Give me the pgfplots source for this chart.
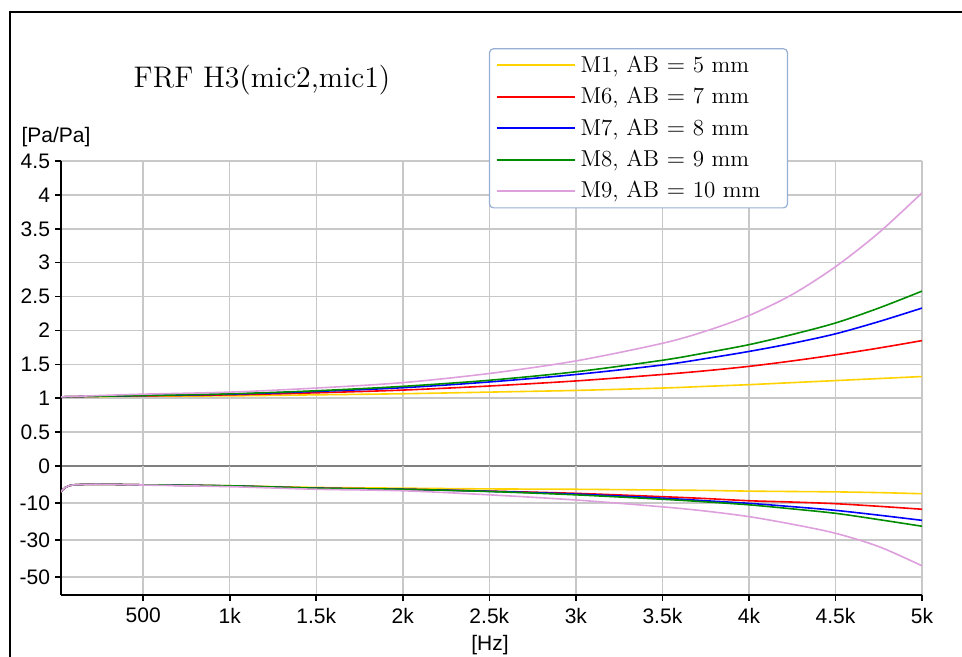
\documentclass[border=0pt]{standalone}
\usepackage{fontspec}
\setsansfont{Liberation Sans}
\usepackage{pgfplots}
\usepackage{pgfplotstable}
\pgfplotsset{compat=1.18}
\usetikzlibrary{calc}

\definecolor{cMone}{RGB}{255,210,0}
\definecolor{cMsix}{RGB}{255,0,0}
\definecolor{cMseven}{RGB}{0,0,255}
\definecolor{cMeight}{RGB}{0,140,0}
\definecolor{cMnine}{RGB}{221,160,221}
\definecolor{gridgray}{RGB}{200,200,200}
\definecolor{zerogray}{RGB}{128,128,128}
\definecolor{legframe}{RGB}{150,175,210}

% magnitude [Pa/Pa]
\pgfplotstableread{
f    m1    m6    m7    m8    m9
25   1.02  1.02  1.02  1.02  1.02
250  1.025 1.03  1.03  1.03  1.04
500  1.03  1.035 1.04  1.04  1.06
1000 1.035 1.05  1.06  1.065 1.09
1500 1.05  1.08  1.10  1.11  1.15
2000 1.066 1.12  1.155 1.175 1.23
2500 1.09  1.18  1.24  1.265 1.365
3000 1.115 1.255 1.35  1.39  1.55
3500 1.15  1.35  1.49  1.56  1.81
3750 1.175 1.405 1.585 1.67  1.99
4000 1.20  1.47  1.69  1.79  2.22
4250 1.23  1.55  1.81  1.94  2.53
4500 1.26  1.64  1.95  2.11  2.94
4750 1.29  1.74  2.13  2.33  3.44
5000 1.32  1.85  2.33  2.58  4.03
}\magtab

% lower panel, in the panel's display units
\pgfplotstableread{
f    m1    m6    m7    m8    m9
25   -7.0  -7.0  -7.0  -7.0  -7.0
50   -5.8  -5.8  -5.8  -5.8  -5.8
100  -5.1  -5.1  -5.1  -5.1  -5.1
250  -4.95 -4.95 -4.95 -4.95 -4.95
500  -5.1  -5.1  -5.1  -5.1  -5.15
1000 -5.35 -5.4  -5.4  -5.35 -5.6
1500 -5.8  -6.0  -6.0  -6.0  -6.3
2000 -6.0  -6.3  -6.3  -6.3  -6.7
2500 -6.2  -6.8  -6.85 -6.9  -7.8
3000 -6.3  -7.4  -7.6  -7.8  -9.2
3500 -6.5  -8.3  -8.7  -9.0  -11.05
3750 -6.6  -8.8  -9.4  -9.7  -12.2
4000 -6.8  -9.4  -10.1 -10.5 -13.7
4250 -6.9  -9.75 -11.0 -11.6 -15.75
4500 -7.0  -10.2 -12.0 -12.8 -18.2
4750 -7.2  -10.9 -13.3 -14.5 -21.8
5000 -7.5  -11.7 -14.7 -16.3 -27.0
}\phtab

\pgfplotsset{
  frfbase/.style={
    scale only axis, width=430.5pt,
    xmin=25, xmax=5000,
    xtick={500,1000,...,5000},
    axis lines=left,
    every non boxed x axis/.style={}, every non boxed y axis/.style={},
    axis line style={black, line width=0.9pt, -},
    grid=major, major grid style={gridgray, line width=0.75pt},
    tick style={black, line width=0.8pt},
    tick align=outside, major tick length=3pt,
    ticklabel style={font=\sffamily\fontsize{10.5}{12}\selectfont},
    yticklabel style={xshift=1pt},
    /pgf/number format/assume math mode=true,
  },
  every axis plot/.append style={line width=0.8pt, smooth, no marks},
}

\begin{document}
\begin{tikzpicture}
\begin{axis}[frfbase, name=up,
    height=152.5pt,
    ymin=0, ymax=4.5,
    ytick={0,0.5,...,4.5},
    x axis line style={zerogray, line width=0.9pt},
    xticklabels={},
    x tick style={draw=none},
    legend cell align=left,
    legend image code/.code={\draw[#1, line width=1pt] (0pt,0pt) -- (39pt,0pt); \path[draw=none] (-1.5pt,0pt) -- (40.5pt,0pt);},
    legend style={at={(0.497,1.37)}, anchor=north west,
      draw=legframe, line width=0.6pt, rounded corners=2pt,
      font=\fontsize{11.5}{13.5}\selectfont,
      nodes={inner sep=1.5pt}, row sep=3pt,
      inner xsep=2pt, inner ysep=2pt},
    /tikz/every even column/.append style={text width=100pt},
  ]
  \addplot[cMone]   table[x=f, y=m1] {\magtab};
  \addlegendentry{M1, AB $=$ 5 mm}
  \addplot[cMsix]   table[x=f, y=m6] {\magtab};
  \addlegendentry{M6, AB $=$ 7 mm}
  \addplot[cMseven] table[x=f, y=m7] {\magtab};
  \addlegendentry{M7, AB $=$ 8 mm}
  \addplot[cMeight] table[x=f, y=m8] {\magtab};
  \addlegendentry{M8, AB $=$ 9 mm}
  \addplot[cMnine]  table[x=f, y=m9] {\magtab};
  \addlegendentry{M9, AB $=$ 10 mm}
\end{axis}

\begin{axis}[frfbase, name=low,
    at={(up.south west)}, anchor=north west,
    height=64.5pt,
    ymin=-34.9, ymax=0,
    ytick={-10,-20,-30},
    yticklabels={-10,-30,-50},
    xticklabels={500,1k,1.5k,2k,2.5k,3k,3.5k,4k,4.5k,5k},
  ]
  \addplot[cMone]   table[x=f, y=m1] {\phtab};
  \addplot[cMsix]   table[x=f, y=m6] {\phtab};
  \addplot[cMseven] table[x=f, y=m7] {\phtab};
  \addplot[cMeight] table[x=f, y=m8] {\phtab};
  \addplot[cMnine]  table[x=f, y=m9] {\phtab};
\end{axis}

\node[font=\fontsize{14.9}{17}\selectfont] at ($(up.north west)+(100.5pt,40.5pt)$) {FRF H3(mic2,mic1)};
\node[font=\sffamily\fontsize{10.5}{12}\selectfont] at ($(up.north west)+(-2.5pt,12pt)$) {[Pa/Pa]};
\node[font=\sffamily\fontsize{10.5}{12}\selectfont] at ($(low.south west)+(214.5pt,-25pt)$) {[Hz]};

\draw[line width=1pt] ($(low.south west)+(-25.5pt,-32pt)$) -- ($(up.north west)+(-25.5pt,74.5pt)$) -- ($(up.north east)+(21pt,74.5pt)$);

\pgfresetboundingbox
\path[use as bounding box] ($(up.north west)+(-30.5pt,80.5pt)$) rectangle ($(low.south east)+(20pt,-31pt)$);
\end{tikzpicture}
\end{document}
